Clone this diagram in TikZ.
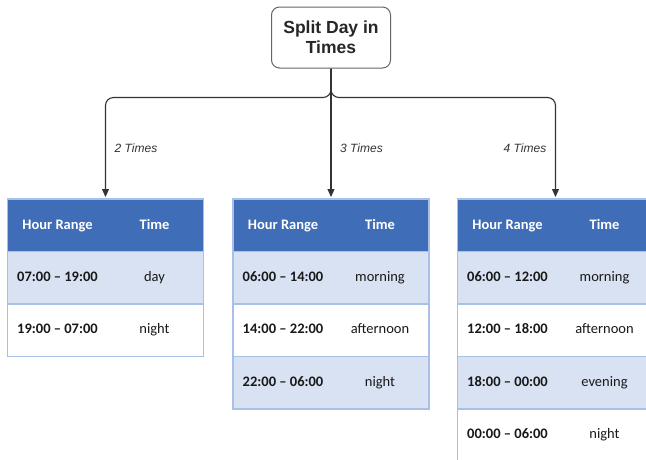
\documentclass[tikz,border=0pt]{standalone}
\usepackage{fontspec}
\setmainfont{Carlito}
\newfontfamily\arialf{Liberation Sans}
\usetikzlibrary{arrows.meta}
\definecolor{hdr}{HTML}{3F6DB7}
\definecolor{band}{HTML}{D9E2F3}
\definecolor{bord}{HTML}{A8BFE6}
\definecolor{conncol}{HTML}{333333}
\definecolor{boxcol}{HTML}{666666}
\tikzset{
  cell/.style={minimum width=196pt, minimum height=52.5pt, inner sep=0pt, outer sep=0pt,
    anchor=north west, draw=bord, line width=1.2pt},
  celltxt/.style={inner sep=0pt, text height=10pt, text depth=3pt,
    font=\fontsize{14.5}{17}\selectfont, text=black!90},
  hdrtxt/.style={inner sep=0pt, text height=10pt, text depth=3pt,
    font=\fontsize{14.5}{17}\selectfont\bfseries, text=white},
  conn/.style={draw=conncol, line width=1.1pt, rounded corners=8pt,
    -{Triangle[width=7pt,length=8pt]}, shorten >=2pt},
  lbl/.style={inner sep=0pt, font=\arialf\itshape\fontsize{12}{14}\selectfont, text=conncol},
  titlebox/.style={draw=boxcol, line width=1pt, rounded corners=8pt, fill=white,
    minimum width=119pt, minimum height=61pt, inner sep=0pt, align=center,
    font=\arialf\bfseries\fontsize{17.5}{19}\selectfont, text=black!85}
}
\newcommand{\mkhead}[3]{% name, x, y
  \node[cell, fill=hdr] (#1) at (#2,#3) {};
  \node[hdrtxt] (#1a) at ([xshift=50pt,yshift=-1pt]#1.west) {Hour Range};
  \node[hdrtxt] (#1b) at ([xshift=147pt,yshift=-1pt]#1.west) {Time};
}
\newcommand{\mkrow}[6]{% name, x, y, fill, range, time
  \node[cell, fill=#4] (#1) at (#2,#3) {};
  \node[celltxt, font=\fontsize{14.5}{17}\selectfont\bfseries] (#1a) at ([xshift=50pt]#1.west) {#5};
  \node[celltxt] (#1b) at ([xshift=147pt]#1.west) {#6};
}
\begin{document}
\begin{tikzpicture}[x=1pt,y=-1pt]
\useasboundingbox (0,0) rectangle (646,459);
\clip (0,0) rectangle (646,459);
\fill[white] (0,0) rectangle (646,459);

% title
\node[titlebox] (title) at (331,37.5) {Split Day in\\[1pt]Times};
\coordinate (bar) at (331,97.5);

% table 1
\mkhead{ta}{7.5}{199}
\mkrow{taa}{7.5}{251.5}{band}{07:00 -- 19:00}{day}
\mkrow{tab}{7.5}{304}{white}{19:00 -- 07:00}{night}

% table 2
\mkhead{tb}{233}{199}
\mkrow{tba}{233}{251.5}{band}{06:00 -- 14:00}{morning}
\mkrow{tbb}{233}{304}{white}{14:00 -- 22:00}{afternoon}
\mkrow{tbc}{233}{356.5}{band}{22:00 -- 06:00}{night}

% table 3
\mkhead{tc}{457.5}{199}
\mkrow{tca}{457.5}{251.5}{band}{06:00 -- 12:00}{morning}
\mkrow{tcb}{457.5}{304}{white}{12:00 -- 18:00}{afternoon}
\mkrow{tcc}{457.5}{356.5}{band}{18:00 -- 00:00}{evening}
\mkrow{tcd}{457.5}{409}{white}{00:00 -- 06:00}{night}

% connectors
\draw[conn] (title.south) -- (bar) -| (ta.north);
\draw[conn] (title.south) -- (tb.north);
\draw[conn] (title.south) -- (bar) -| (tc.north);

% labels
\node[lbl] (l2) at (136,148) {2 Times};
\node[lbl] (l3) at (361.5,148) {3 Times};
\node[lbl] (l4) at (525,148) {4 Times};
\end{tikzpicture}
\end{document}
